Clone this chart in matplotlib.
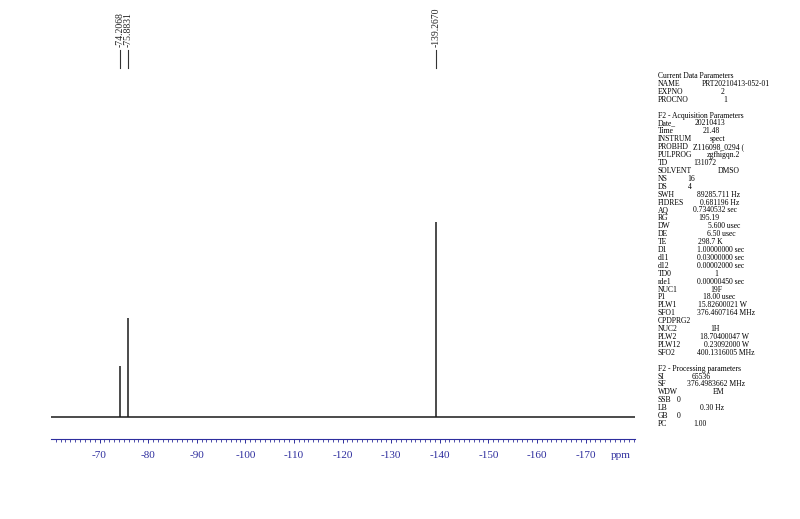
import matplotlib
matplotlib.use("Agg")
import matplotlib.pyplot as plt  # noqa: E402
from matplotlib.ticker import FixedLocator, MultipleLocator  # noqa: E402
from matplotlib.transforms import blended_transform_factory  # noqa: E402

W, H = 800, 519
BLUE = "#2e2e9e"
SERIF = "Liberation Serif"

# 19F spectrum: peak positions (ppm) and relative heights
peak_ppm = [-74.2068, -75.8831, -139.2670]
peak_height = [0.26, 0.51, 1.0]
peak_labels = ["-74.2068", "-75.8831", "-139.2670"]

major_ticks = [-60, -70, -80, -90, -100, -110, -120, -130, -140, -150, -160, -170]
tick_labels = ["", "-70", "-80", "-90", "-100", "-110", "-120", "-130",
               "-140", "-150", "-160", "-170"]

# parameter block (key, value)
current_params = [
    ("Current Data Parameters", ""),
    ("NAME", "PRT20210413-052-01"),
    ("EXPNO", "2"),
    ("PROCNO", "1"),
]
acq_params = [
    ("F2 - Acquisition Parameters", ""),
    ("Date_", "20210413"),
    ("Time", "21.48"),
    ("INSTRUM", "spect"),
    ("PROBHD", "Z116098_0294 ("),
    ("PULPROG", "zgfhigqn.2"),
    ("TD", "131072"),
    ("SOLVENT", "DMSO"),
    ("NS", "16"),
    ("DS", "4"),
    ("SWH", "89285.711 Hz"),
    ("FIDRES", "0.681196 Hz"),
    ("AQ", "0.7340532 sec"),
    ("RG", "195.19"),
    ("DW", "5.600 usec"),
    ("DE", "6.50 usec"),
    ("TE", "298.7 K"),
    ("D1", "1.00000000 sec"),
    ("d11", "0.03000000 sec"),
    ("d12", "0.00002000 sec"),
    ("TD0", "1"),
    ("rde1", "0.00000450 sec"),
    ("NUC1", "19F"),
    ("P1", "18.00 usec"),
    ("PLW1", "15.82600021 W"),
    ("SFO1", "376.4607164 MHz"),
    ("CPDPRG2", ""),
    ("NUC2", "1H"),
    ("PLW2", "18.70400047 W"),
    ("PLW12", "0.23092000 W"),
    ("SFO2", "400.1316005 MHz"),
]
proc_params = [
    ("F2 - Processing parameters", ""),
    ("SI", "65536"),
    ("SF", "376.4983662 MHz"),
    ("WDW", "EM"),
    ("SSB", "0"),
    ("LB", "0.30 Hz"),
    ("GB", "0"),
    ("PC", "1.00"),
]

# layout: x pixel where each value starts (same order as the lines)
current_vx = [0, 702, 721, 723]
acq_vx = [0, 695, 703, 710, 693, 707, 693, 718, 687, 688, 697, 700, 693,
          698, 708, 707, 698, 697, 697, 697, 714, 697, 710, 703, 698, 697,
          0, 710, 700, 704, 697]
proc_vx = [0, 692, 687, 713, 677, 700, 677, 693]

fig = plt.figure(figsize=(W / 100, H / 100), dpi=100)
fig.patch.set_facecolor("white")

ax_left, ax_right = 51.4, 634.6
ax_bottom, ax_top = 439, 20
ax = fig.add_axes([ax_left / W, 1 - ax_bottom / H,
                   (ax_right - ax_left) / W, (ax_bottom - ax_top) / H])
ax.set_xlim(-60.1, -180.1)
ax.set_ylim(-22 / 195, (417 - ax_top) / 195)

ax.axhline(0, color="#1a1a1a", lw=1.1)
ax.vlines(peak_ppm, 0, peak_height, color="#1a1a1a", lw=1.1)

for s in ("top", "left", "right"):
    ax.spines[s].set_visible(False)
ax.spines["bottom"].set_color(BLUE)
ax.spines["bottom"].set_linewidth(0.8)
ax.set_yticks([])
ax.xaxis.set_major_locator(FixedLocator(major_ticks))
ax.set_xticklabels(tick_labels, family=SERIF, fontsize=8, color=BLUE)
ax.xaxis.set_minor_locator(MultipleLocator(1))
ax.tick_params(axis="x", which="major", direction="out", length=3.2,
               width=0.7, color=BLUE, pad=5.2)
ax.tick_params(axis="x", which="minor", direction="out", length=1.8,
               width=0.6, color=BLUE)

fig.text(621 / W, 1 - 455 / H, "ppm", family=SERIF, fontsize=8,
         color=BLUE, ha="center", va="center")

# peak labels at top
trans = blended_transform_factory(ax.transData, fig.transFigure)
for ppm, lab in zip(peak_ppm, peak_labels):
    ax.text(ppm, 1 - 47 / H, lab, transform=trans, rotation=90,
            ha="center", va="bottom", family=SERIF, fontsize=7,
            color="#222222", clip_on=False)
    ax.plot([ppm, ppm], [1 - 50 / H, 1 - 68 / H], transform=trans,
            color="#333333", lw=0.8, clip_on=False)

# parameter block on the right
key_x = 658
line_y0 = 76
line_dy = 7.91
lines = (list(zip(current_params, current_vx)) + [None]
         + list(zip(acq_params, acq_vx)) + [None]
         + list(zip(proc_params, proc_vx)))
for i, item in enumerate(lines):
    if item is None:
        continue
    (key, val), vx = item
    y = 1 - (line_y0 + i * line_dy) / H
    fig.text(key_x / W, y, key, family=SERIF, fontsize=5.5,
             ha="left", va="center")
    if val:
        fig.text(vx / W, y, val, family=SERIF, fontsize=5.5,
                 ha="left", va="center")

fig.savefig("out.png", dpi=100, facecolor="white")
